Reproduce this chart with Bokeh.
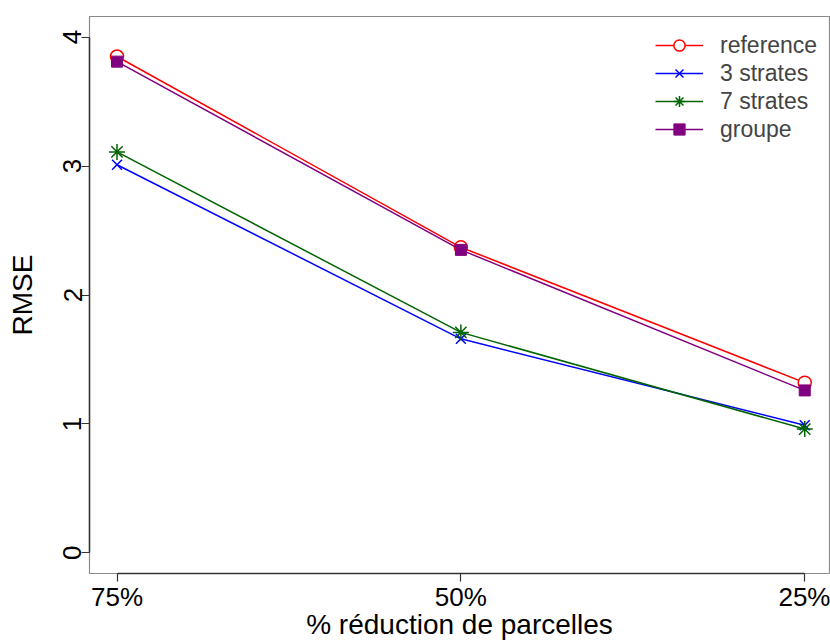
from bokeh.plotting import figure
from bokeh.models import Range1d, FixedTicker, Legend, LegendItem
from bokeh.embed import file_html
from bokeh.resources import INLINE

# ---- data ----
categories = ["75%", "50%", "25%"]
x_pos = [1, 2, 3]
reference = [3.85, 2.37, 1.32]
strates3 = [3.01, 1.66, 0.99]
strates7 = [3.11, 1.71, 0.96]
groupe = [3.81, 2.35, 1.26]
y_ticks = [0, 1, 2, 3, 4]

FONT = "Liberation Sans"

p = figure(width=830, height=643, output_backend="svg", toolbar_location=None,
           x_range=Range1d(0.92, 3.072), y_range=Range1d(-0.16, 4.16),
           min_border_left=89, min_border_right=1, min_border_top=16, min_border_bottom=70)
p.grid.visible = False
p.outline_line_color = "#8a8a8a"
p.outline_line_width = 1.2
p.background_fill_color = "white"
p.border_fill_color = "white"

series = [
    ("reference", reference, "#ff0000", "circle", 13, "white"),
    ("3 strates", strates3, "#0000ff", "x", 14, None),
    ("7 strates", strates7, "#006400", "asterisk", 16, None),
    ("groupe", groupe, "#800080", "square", 11, "#800080"),
]

items = []
for name, vals, col, mk, sz, fill in series:
    ln = p.line(x_pos, vals, line_color=col, line_width=1.5)
    if mk == "circle":
        sc = p.scatter(x_pos, vals, marker=mk, size=sz, line_color=col, line_width=1.5,
                       fill_color="white")
    elif mk == "square":
        sc = p.scatter(x_pos, vals, marker=mk, size=sz, line_color=col, line_width=1,
                       fill_color=fill)
    else:
        sc = p.scatter(x_pos, vals, marker=mk, size=sz, line_color=col, line_width=1.5)
    items.append(LegendItem(label=name, renderers=[ln, sc]))

legend = Legend(items=items, location=(566, 430), label_text_font=FONT,
                label_text_font_size="23px", glyph_width=48, glyph_height=28,
                label_height=28, spacing=0, padding=0, margin=0, label_standoff=17,
                border_line_alpha=0, background_fill_alpha=0)
p.add_layout(legend)

# axes
p.xaxis.ticker = FixedTicker(ticks=x_pos)
p.xaxis.major_label_overrides = {x: c for x, c in zip(x_pos, categories)}
p.xaxis.bounds = (x_pos[0], x_pos[-1])
p.yaxis.ticker = FixedTicker(ticks=y_ticks)
p.yaxis.bounds = (y_ticks[0], y_ticks[-1])
p.yaxis.major_label_orientation = "vertical"

for ax in (p.xaxis[0], p.yaxis[0]):
    ax.axis_line_color = "#333333"
    ax.axis_line_width = 1.5
    ax.major_tick_line_color = "#333333"
    ax.major_tick_line_width = 1.2
    ax.major_tick_out = 8
    ax.major_tick_in = 0
    ax.minor_tick_line_color = None
    ax.major_label_text_font = FONT
    ax.major_label_text_font_size = "26px"
    ax.major_label_text_color = "black"
    ax.axis_label_text_font = FONT
    ax.axis_label_text_font_size = "28px"
    ax.axis_label_text_font_style = "normal"
    ax.axis_label_text_color = "black"

p.xaxis.axis_label = "% réduction de parcelles"
p.yaxis.axis_label = "RMSE"
p.xaxis.major_label_standoff = 0
p.xaxis.axis_label_standoff = -6
p.yaxis.major_label_standoff = 0
p.yaxis.axis_label_standoff = 23

open("out.html", "w").write(file_html(p, INLINE))
